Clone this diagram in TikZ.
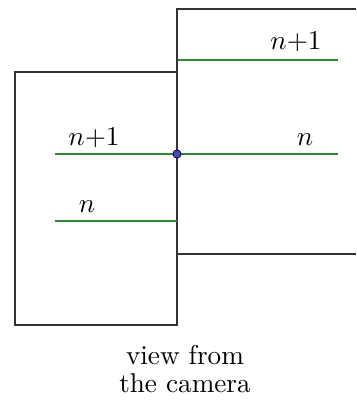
\documentclass[tikz,border=0pt]{standalone}
\begin{document}
\begin{tikzpicture}[x=0.368pt,y=-0.368pt,
  frame/.style={draw=black!80,line width=0.6pt},
  level/.style={draw=green!40!black!80,line width=0.9pt},
  lbl/.style={anchor=base,inner sep=0pt},
  dotmark/.style={circle,draw=blue!30!black,fill=blue!55!black!70,line width=0.3pt,inner sep=0pt,minimum size=3pt}]
\useasboundingbox (0,0) rectangle (356,416);
% left frame
\coordinate (L1) at (15,72);
\coordinate (L2) at (177,72);
\coordinate (L3) at (177,325);
\coordinate (L4) at (15,325);
\draw[frame] (L2) -- (L1) -- (L4) -- (L3) -- (L2);
% right frame
\coordinate (R1) at (356,9);
\coordinate (R2) at (177,9);
\coordinate (R3) at (177,254);
\coordinate (R4) at (356,254);
\draw[frame] (R1) -- (R2) -- (R3) -- (R4);
% green levels
\coordinate (a1) at (178,60);
\coordinate (a2) at (338,60);
\coordinate (b1) at (55,154);
\coordinate (b2) at (338,154);
\coordinate (c1) at (55,221);
\coordinate (c2) at (177,221);
\draw[level] (a1) -- (a2);
\draw[level] (b1) -- (b2);
\draw[level] (c1) -- (c2);
\node[dotmark] (dot) at (177,154) {};
% labels
\node[lbl] (t1) at (296,50) {$n{+}1$};
\node[lbl] (t2) at (94,146) {$n{+}1$};
\node[lbl] (t3) at (305,146) {$n$};
\node[lbl] (t4) at (87,213) {$n$};
\node[anchor=base,inner sep=0pt,align=center] (cap1) at (185,364) {view from};
\node[anchor=base,inner sep=0pt,align=center] (cap2) at (185,392) {the camera};
\end{tikzpicture}
\end{document}
